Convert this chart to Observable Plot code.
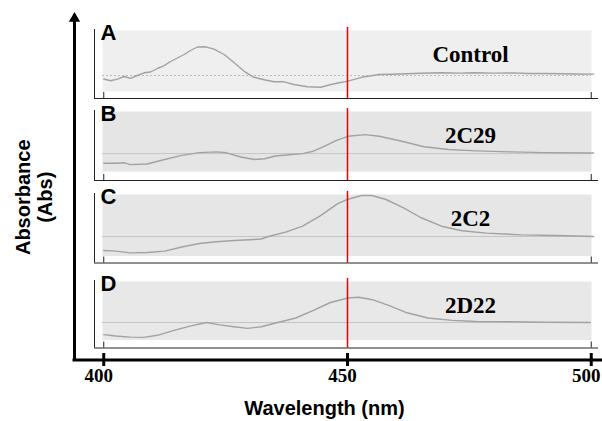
<!DOCTYPE html>
<html>
<head>
<meta charset="utf-8">
<script src="https://cdn.jsdelivr.net/npm/d3@7"></script>
<script src="https://cdn.jsdelivr.net/npm/@observablehq/plot@0.6"></script>
<style>
  html, body { margin: 0; padding: 0; background: #fff; }
  #chart { position: relative; width: 602px; height: 421px; overflow: hidden; }
  #chart svg { position: absolute; left: 0; }
</style>
</head>
<body>
<div id="chart"></div>
<script>
// Difference spectra, relative absorbance (a.u.), 0 = baseline of each trace
const wavelengthTicks = [400, 450, 500];
const markerWavelength = 450;
const panelLetters = ["A", "B", "C", "D"];
const panelNames = ["Control", "2C29", "2C2", "2D22"];

const controlWl  = [400, 401.4, 402.8, 404.2, 405.5, 406.9, 408.3, 409.6, 411, 412.4, 413.7, 415.1, 416.5, 417.8, 419.2, 420.9, 422.6, 424.7, 426.7, 428.8, 430.8, 432.9, 434.9, 437, 439, 441.8, 444.5, 446.6, 448.6, 450.1, 452.9, 456.5, 459, 462.2, 465, 469.3, 473, 476, 479.9, 484, 487, 490.5, 494, 497, 500.5];
const controlAbs = [-3.5, -5.2, -3.6, -1, -2.8, 0, 2.7, 3.5, 7, 9.8, 14, 17.5, 21, 25, 28.5, 28.7, 26.3, 21, 13, 4.2, -1.8, -4.2, -6.3, -6.3, -9, -11.2, -11.8, -9, -7, -5.6, -1.8, 1, 1.2, 1.7, 2.2, 2.7, 2.4, 2.8, 2.4, 2.6, 2.0, 2.0, 1.8, 1.5, 1.4];

const c2c29Wl  = [400, 402.5, 404.3, 405.4, 408.9, 412.5, 416, 419.6, 423.1, 425.2, 428.1, 430.9, 433, 435.2, 438, 440.8, 443, 445.1, 448, 450.1, 453.6, 456.5, 460.7, 465.7, 470.7, 476.4, 483.5, 490.5, 500.5];
const c2c29Abs = [-9.7, -9.7, -9.2, -11, -10.4, -5.9, -1.8, 1, 1.7, 0.8, -3.4, -5.9, -5.2, -2.4, -1.1, 0, 2.4, 6.9, 13.8, 17.3, 19, 17.3, 12.8, 6.9, 4.1, 2.7, 1.7, 1, 0.6];

const c2c2Wl  = [400, 402.5, 405.4, 408.9, 412.5, 416, 419.6, 423.1, 426.7, 430, 432.3, 433.8, 437.3, 440.8, 444.4, 448, 450.1, 452.9, 455, 457.9, 461.5, 465, 469.3, 473.5, 478.5, 485.6, 492.7, 500.5];
const c2c2Abs = [-14, -14.6, -16.4, -16, -14.6, -10.5, -7, -5.3, -4, -3.2, -2.5, 0, 4.4, 10.3, 20.7, 32.8, 37.3, 41, 41, 37, 28.6, 19, 10.3, 5.8, 3.4, 1.6, 1, 0];

const d2d22Wl  = [400, 402.5, 405.4, 408.2, 411, 414.6, 418.1, 421.1, 423.8, 426.7, 429.5, 432.3, 435.9, 439.4, 443, 446.5, 450.1, 452.3, 455.1, 458.7, 462.2, 466.5, 471.5, 476.4, 483.5, 490.5, 499.8];
const d2d22Abs = [-12.1, -13.5, -14.6, -14.9, -12.8, -7.7, -3.1, 0, -2.4, -4.2, -5.9, -4.2, 0.3, 4.5, 12.1, 20, 24.5, 25.3, 22.8, 16.6, 9.7, 4.5, 2.1, 1, 0.7, 0.3, 0];

const series = [
  {wl: controlWl, abs: controlAbs},
  {wl: c2c29Wl, abs: c2c29Abs},
  {wl: c2c2Wl, abs: c2c2Abs},
  {wl: d2d22Wl, abs: d2d22Abs}
];

// Shared wavelength scale and axis origins
const xDomain = [400, 500];
const xRange = [103.25, 590.75];
const outerAxisStart = 394;   // wavelength where the outer axes meet
const panelAxisStart = 398.1; // wavelength of each panel's left axis

// Panel geometry: frame top/bottom (px), y domain (a.u.), background gap and fill
const panelLayout = [
  {top: 30,    bottom: 98,    yDomain: [-23, 45],   gap: 7, fill: "#efefef", dashed: true},
  {top: 110.5, bottom: 179.5, yDomain: [-26.9, 42.1], gap: 9, fill: "#e5e5e5", dashed: false},
  {top: 194,   bottom: 262.5, yDomain: [-26.5, 42],  gap: 7, fill: "#e6e6e6", dashed: false},
  {top: 281,   bottom: 347.5, yDomain: [-25.5, 41],  gap: 8, fill: "#e8e8e8", dashed: false}
];

const sans = "Liberation Sans, Arial, sans-serif";
const serif = "Liberation Serif, Times New Roman, serif";
const chart = document.getElementById("chart");

// Outer frame: arrowed absorbance axis, wavelength axis, titles
const baseTop = 18, baseBottom = 359.5;
const baseFrameH = baseBottom - baseTop;
const base = Plot.plot({
  width: 602, height: 421,
  marginTop: baseTop, marginBottom: 421 - baseBottom, marginLeft: 74, marginRight: 0,
  x: {domain: xDomain, range: xRange, axis: null},
  y: {domain: [0, 1], axis: null},
  style: {background: "white", overflow: "visible"},
  marks: [
    Plot.ruleY([0], {stroke: "black", strokeWidth: 3, insetLeft: -1.5}),
    Plot.ruleX([outerAxisStart], {stroke: "black", strokeWidth: 3, insetBottom: -1.5}),
    Plot.dot([outerAxisStart], {x: d => d, y: () => 1, symbol: "triangle", r: 4.2, fill: "black", stroke: "none"}),
    Plot.ruleX(wavelengthTicks, {stroke: "black", strokeWidth: 3, insetTop: baseFrameH - 6.5, insetBottom: -6.5}),
    Plot.text(wavelengthTicks, {x: d => d, frameAnchor: "bottom", dy: 22, dx: -5, textAnchor: "middle",
      fontFamily: serif, fontWeight: "bold", fontSize: 19, fill: "black"}),
    Plot.text(["Wavelength (nm)"], {frameAnchor: "bottom", dy: 55, dx: -14, textAnchor: "middle",
      fontFamily: sans, fontWeight: "bold", fontSize: 20, fill: "black"}),
    Plot.text(["Absorbance\n(Abs)"], {frameAnchor: "left", rotate: -90, dx: -41, dy: 8, textAnchor: "middle",
      lineAnchor: "middle", lineHeight: 1.1, fontFamily: sans, fontWeight: "bold", fontSize: 20, fill: "black"})
  ]
});
base.style.top = "0px";
chart.appendChild(base);

// One panel per spectrum
panelLayout.forEach((L, i) => {
  const data = series[i].wl.map((w, k) => ({w, a: series[i].abs[k]}));
  const frameH = L.bottom - L.top;
  const mt = 22, mb = 2;
  const svg = Plot.plot({
    width: 602, height: mt + frameH + mb,
    marginTop: mt, marginBottom: mb, marginLeft: 94, marginRight: 4,
    x: {domain: xDomain, range: xRange, axis: null},
    y: {domain: L.yDomain, axis: null},
    style: {background: "transparent", overflow: "visible"},
    marks: [
      Plot.frame({fill: L.fill, stroke: "none", insetLeft: 8, insetRight: 7, insetBottom: L.gap}),
      Plot.ruleY([0], {stroke: L.dashed ? "#bcbcbc" : "#c4c4c4", strokeWidth: 1,
        strokeDasharray: L.dashed ? "2,2" : null, insetLeft: 8, insetRight: 7}),
      Plot.line(data, {x: "w", y: "a", stroke: "#a2a2a2", strokeWidth: 1.4}),
      Plot.ruleX([markerWavelength], {stroke: "#f00000", strokeWidth: 1.5, insetTop: -3}),
      Plot.ruleY([L.yDomain[0]], {stroke: "#222", strokeWidth: 1}),
      Plot.ruleX([panelAxisStart], {stroke: "#222", strokeWidth: 1, insetTop: -1}),
      Plot.ruleX([400, 500], {stroke: "#222", strokeWidth: 1, insetTop: frameH - 6}),
      Plot.text([panelLetters[i]], {frameAnchor: "top-left", dx: 6, dy: 9, textAnchor: "start", lineAnchor: "bottom",
        fontFamily: sans, fontWeight: "bold", fontSize: 22, fill: "black"}),
      Plot.text([panelNames[i]], {frameAnchor: "top-right", dx: -128, dy: 31, textAnchor: "middle", lineAnchor: "bottom",
        fontFamily: serif, fontWeight: "bold", fontSize: 23, fill: "black"})
    ]
  });
  svg.style.top = (L.top - mt) + "px";
  chart.appendChild(svg);
});
</script>
</body>
</html>
